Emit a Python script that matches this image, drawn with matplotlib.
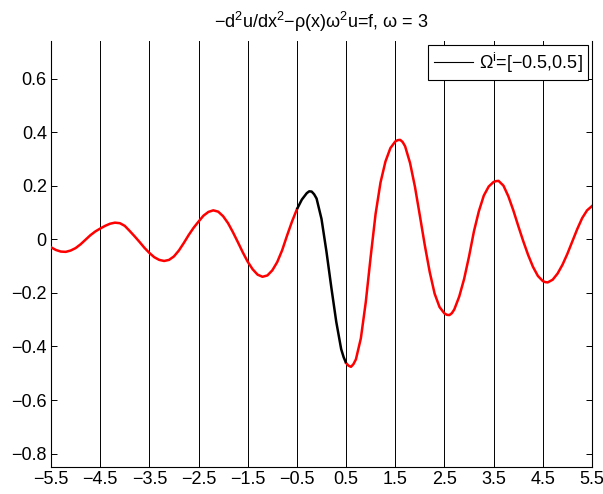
import numpy as np
import matplotlib
matplotlib.use("Agg")
import matplotlib.pyplot as plt

plt.rcParams['font.family'] = ['Liberation Sans', 'DejaVu Sans']
plt.rcParams['mathtext.fontset'] = 'custom'
plt.rcParams['mathtext.rm'] = 'Liberation Sans'
plt.rcParams['mathtext.it'] = 'Liberation Sans'
plt.rcParams['mathtext.default'] = 'regular'

x_vals = np.round(np.arange(-55, 56) / 10.0, 1)
u_vals = [
    -0.030, -0.040, -0.046, -0.047, -0.042, -0.033, -0.019, -0.002, 0.015, 0.029,  # -5.5 .. -4.6
    0.040, 0.050, 0.058, 0.062, 0.060, 0.050, 0.031, 0.011, -0.010, -0.032,        # -4.5 .. -3.6
    -0.051, -0.067, -0.077, -0.081, -0.077, -0.064, -0.042, -0.014, 0.016, 0.043,  # -3.5 .. -2.6
    0.066, 0.088, 0.102, 0.108, 0.103, 0.086, 0.060, 0.026, -0.011, -0.049,        # -2.5 .. -1.6
    -0.084, -0.112, -0.132, -0.140, -0.135, -0.116, -0.085, -0.041, 0.014, 0.066,  # -1.5 .. -0.6
    0.112, 0.148, 0.172, 0.178, 0.152, 0.076, -0.045, -0.180, -0.308, -0.410,      # -0.5 .. 0.4
    -0.462, -0.476, -0.448, -0.370, -0.235, -0.065, 0.095, 0.212, 0.290, 0.340,    # 0.5 .. 1.4
    0.365, 0.371, 0.347, 0.285, 0.196, 0.088, -0.022, -0.122, -0.203, -0.253,      # 1.5 .. 2.4
    -0.277, -0.283, -0.262, -0.214, -0.148, -0.064, 0.030, 0.105, 0.163, 0.197,    # 2.5 .. 3.4
    0.214, 0.218, 0.200, 0.160, 0.108, 0.050, -0.006, -0.058, -0.103, -0.137,      # 3.5 .. 4.4
    -0.156, -0.161, -0.151, -0.128, -0.095, -0.054, -0.008, 0.038, 0.079, 0.108,   # 4.5 .. 5.4
    0.124,                                                                         # 5.5
]
# extra readings near the turning points
x_extra = [-0.25, -0.15, 0.45, 0.55, 0.65, 1.55, 1.65, 2.55, 2.65, 3.55, 4.55]
u_extra = [0.179, 0.168, -0.440, -0.472, -0.466, 0.370, 0.363, -0.282, -0.276, 0.217, -0.160]

subdomain = [-0.5, 0.5]
grid_lines = [-4.5, -3.5, -2.5, -1.5, -0.5, 0.5, 1.5, 2.5, 3.5, 4.5]
x_ticks = [-5.5, -4.5, -3.5, -2.5, -1.5, -0.5, 0.5, 1.5, 2.5, 3.5, 4.5, 5.5]
x_ticklabels = ['\u22125.5', '\u22124.5', '\u22123.5', '\u22122.5', '\u22121.5', '\u22120.5',
                '0.5', '1.5', '2.5', '3.5', '4.5', '5.5']
y_ticks = [-0.8, -0.6, -0.4, -0.2, 0, 0.2, 0.4, 0.6]
y_ticklabels = ['\u22120.8', '\u22120.6', '\u22120.4', '\u22120.2', '0', '0.2', '0.4', '0.6']
title = '\u2212d$^2$u/dx$^2$\u2212\u03c1(x)\u03c9$^2$u=f, \u03c9 = 3'
legend_label = '$\\Omega^i$=[\u22120.5,0.5]'

fs = 13

xs = np.concatenate([x_vals, np.array(x_extra)])
us = np.concatenate([np.array(u_vals), np.array(u_extra)])
order = np.argsort(xs, kind='stable')
xs, us = xs[order], us[order]

fig = plt.figure(figsize=(6.03, 4.94), dpi=100)
ax = fig.add_axes([51/603, 27/494, 541/603, 426/494])

for gx in grid_lines:
    ax.axvline(gx, color='k', lw=0.7, zorder=1)

left = xs <= subdomain[0]
mid = (xs >= subdomain[0]) & (xs <= subdomain[1])
right = xs >= subdomain[1]
ax.plot(xs[left], us[left], color='red', lw=1.8, zorder=3)
ax.plot(xs[right], us[right], color='red', lw=1.8, zorder=3)
ax.plot(xs[mid], us[mid], color='black', lw=1.8, zorder=4, solid_capstyle='butt')

ax.set_xlim(-5.5, 5.5)
ax.set_ylim(-0.85, 0.74)
ax.set_xticks(x_ticks)
ax.set_xticklabels(x_ticklabels)
ax.set_yticks(y_ticks)
ax.set_yticklabels(y_ticklabels)
ax.tick_params(direction='in', length=4, width=0.7, labelsize=fs, right=True, top=False, pad=3)
ax.spines['top'].set_visible(False)
for s in ['left', 'right', 'bottom']:
    ax.spines[s].set_linewidth(0.8)

ax.set_title(title, fontsize=fs, pad=9)

h, = ax.plot([], [], color='black', lw=0.8)
leg = ax.legend([h], [legend_label], loc='upper right', fontsize=fs, frameon=True,
                fancybox=False, framealpha=1, edgecolor='black', handlelength=2.2,
                handletextpad=0.3, borderpad=0.3, borderaxespad=0,
                bbox_to_anchor=(0.9926, 0.9906))
leg.get_frame().set_linewidth(0.8)

fig.savefig('out.png', dpi=100)
